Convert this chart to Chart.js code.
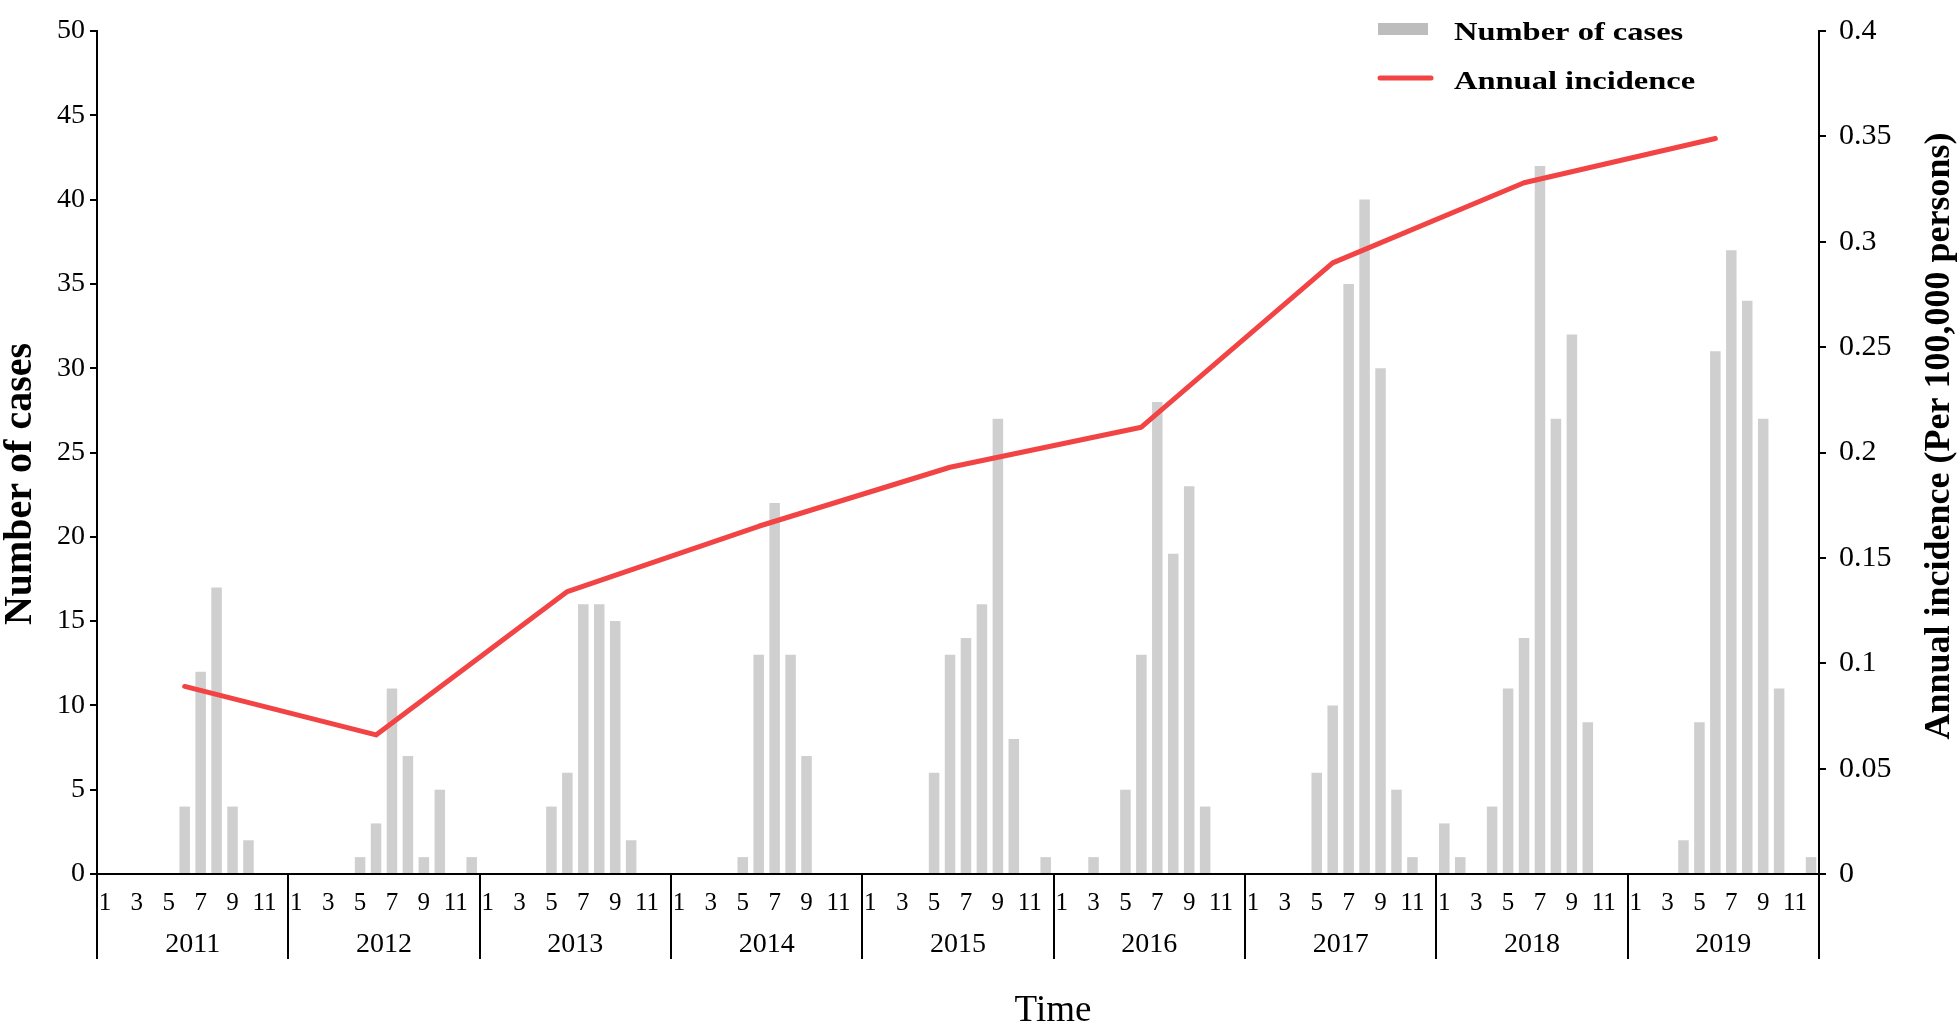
<!DOCTYPE html>
<html>
<head>
<meta charset="utf-8">
<script src="https://cdn.jsdelivr.net/npm/chart.js@4.4.1/dist/chart.umd.min.js"></script>
<style>
html,body{margin:0;padding:0;background:#ffffff;}
#wrap{width:1960px;height:1025px;}
</style>
</head>
<body>
<div id="wrap"><canvas id="c" width="1960" height="1025"></canvas></div>
<script>
// ---------- data ----------
const years = ['2011','2012','2013','2014','2015','2016','2017','2018','2019'];
const monthNumbers = ['1','2','3','4','5','6','7','8','9','10','11','12'];

const cases2011 = [0,0,0,0,0,4,12,17,4,2,0,0];
const cases2012 = [0,0,0,0,1,3,11,7,1,5,0,1];
const cases2013 = [0,0,0,0,4,6,16,16,15,2,0,0];
const cases2014 = [0,0,0,0,1,13,22,13,7,0,0,0];
const cases2015 = [0,0,0,0,6,13,14,16,27,8,0,1];
const cases2016 = [0,0,1,0,5,13,28,19,23,4,0,0];
const cases2017 = [0,0,0,0,6,10,35,40,30,5,1,0];
const cases2018 = [3,1,0,4,11,14,42,27,32,9,0,0];
const cases2019 = [0,0,0,2,9,31,37,34,27,11,0,1];

const annualIncidence = [0.089,0.066,0.134,0.165,0.193,0.212,0.290,0.328,0.349];
const incidenceMonth = '6';   // annual value plotted at mid-year

const caseTicks = [0,5,10,15,20,25,30,35,40,45,50];
const incidenceTicks = [0,0.05,0.1,0.15,0.2,0.25,0.3,0.35,0.4];

const seriesLabels = ['Number of cases','Annual incidence'];
const axisTitles = { left: 'Number of cases', right: 'Annual incidence (Per 100,000 persons)', bottom: 'Time' };

// ---------- build library tables ----------
const monthlyCases = [cases2011,cases2012,cases2013,cases2014,cases2015,cases2016,cases2017,cases2018,cases2019];
const categories = years.flatMap(y => monthNumbers.map(m => y + '-' + m));
const caseValues = monthlyCases.flat();
const incidenceValues = categories.map(c => {
  const [y, m] = c.split('-');
  return m === incidenceMonth ? annualIncidence[years.indexOf(y)] : null;
});

const SERIF = '"Liberation Serif", "Times New Roman", serif';
const BAR_COLOR = '#cfcfcf';
const LEGEND_BAR_COLOR = '#bdbdbd';
const LINE_COLOR = '#f24444';

// ---------- plugins ----------
const whiteBg = {
  id: 'whiteBg',
  beforeDraw(chart) {
    const ctx = chart.ctx;
    ctx.save();
    ctx.fillStyle = '#ffffff';
    ctx.fillRect(0, 0, chart.width, chart.height);
    ctx.restore();
  }
};

const axisDecor = {
  id: 'axisDecor',
  afterDraw(chart) {
    const ctx = chart.ctx;
    const x = chart.scales.x;
    const area = chart.chartArea;
    const step = x.getPixelForValue(1) - x.getPixelForValue(0);
    ctx.save();
    // year separators
    ctx.strokeStyle = '#000';
    ctx.lineWidth = 2;
    for (let k = 0; k <= years.length; k++) {
      const px = Math.round(x.getPixelForValue(k * 12) - step / 2);
      ctx.beginPath();
      ctx.moveTo(px, area.bottom);
      ctx.lineTo(px, area.bottom + 85);
      ctx.stroke();
    }
    ctx.fillStyle = '#000';
    ctx.textAlign = 'center';
    ctx.textBaseline = 'middle';
    // month labels (odd months), positioned by the category scale
    ctx.font = '25px ' + SERIF;
    categories.forEach((c, i) => {
      const m = c.split('-')[1];
      if (parseInt(m, 10) % 2 === 1) {
        ctx.fillText(m, x.getPixelForValue(i), area.bottom + 29);
      }
    });
    // year labels
    ctx.font = '28px ' + SERIF;
    years.forEach((yr, k) => {
      const cx = x.getPixelForValue(k * 12 + 5) + step / 2;
      ctx.fillText(yr, cx, area.bottom + 71);
    });
    // bottom title
    ctx.textBaseline = 'alphabetic';
    ctx.font = '37px ' + SERIF;
    ctx.fillText(axisTitles.bottom, 1053, 1021);
    // left title (reads bottom-to-top)
    ctx.textBaseline = 'middle';
    ctx.font = 'bold 40px ' + SERIF;
    ctx.save();
    ctx.translate(21, 484);
    ctx.rotate(-Math.PI / 2);
    ctx.fillText(axisTitles.left, 0, 0);
    ctx.restore();
    // right title (reads bottom-to-top)
    ctx.font = 'bold 36px ' + SERIF;
    ctx.save();
    ctx.translate(1940, 436);
    ctx.rotate(-Math.PI / 2);
    ctx.fillText(axisTitles.right, 0, 0);
    ctx.restore();
    ctx.restore();
  }
};

const insideLegend = {
  id: 'insideLegend',
  afterDraw(chart) {
    const ctx = chart.ctx;
    const ds = chart.data.datasets;
    const barDs = ds.find(d => d.type === 'bar');
    const lineDs = ds.find(d => d.type === 'line');
    ctx.save();
    ctx.fillStyle = LEGEND_BAR_COLOR;
    ctx.fillRect(1378, 23, 50, 12);
    ctx.strokeStyle = lineDs.borderColor;
    ctx.lineWidth = 5;
    ctx.lineCap = 'round';
    ctx.beginPath();
    ctx.moveTo(1380, 78);
    ctx.lineTo(1431, 78);
    ctx.stroke();
    ctx.fillStyle = '#000';
    ctx.textAlign = 'left';
    ctx.textBaseline = 'alphabetic';
    ctx.font = 'bold 26px ' + SERIF;
    [[barDs.label, 40], [lineDs.label, 89]].forEach(([t, by]) => {
      ctx.save();
      ctx.translate(1454, by);
      ctx.scale(1.25, 1);
      ctx.fillText(t, 0, 0);
      ctx.restore();
    });
    ctx.restore();
  }
};

// ---------- chart ----------
new Chart(document.getElementById('c'), {
  type: 'bar',
  data: {
    labels: categories,
    datasets: [
      {
        type: 'line',
        label: seriesLabels[1],
        data: incidenceValues,
        yAxisID: 'y1',
        borderColor: LINE_COLOR,
        backgroundColor: LINE_COLOR,
        borderWidth: 5,
        borderCapStyle: 'round',
        borderJoinStyle: 'round',
        pointRadius: 0,
        spanGaps: true,
        tension: 0,
        order: 0
      },
      {
        type: 'bar',
        label: seriesLabels[0],
        data: caseValues,
        yAxisID: 'y',
        backgroundColor: BAR_COLOR,
        borderWidth: 0,
        barPercentage: 0.66,
        categoryPercentage: 1,
        order: 1
      }
    ]
  },
  options: {
    responsive: false,
    animation: false,
    devicePixelRatio: 1,
    layout: { padding: { top: 15, left: 0, right: 0, bottom: 0 } },
    plugins: {
      legend: { display: false },
      tooltip: { enabled: false }
    },
    scales: {
      x: {
        type: 'category',
        offset: true,
        grid: { display: false, drawTicks: false },
        border: { display: true, color: '#000', width: 2 },
        ticks: { display: false },
        afterFit(scale) { scale.height = 151; }
      },
      y: {
        position: 'left',
        min: 0,
        max: 50,
        afterBuildTicks(scale) { scale.ticks = caseTicks.map(v => ({ value: v })); },
        grid: { drawOnChartArea: false, drawTicks: true, tickLength: 7, color: '#000', lineWidth: 2 },
        border: { display: true, color: '#000', width: 2 },
        ticks: {
          padding: 5,
          color: '#000',
          font: { family: SERIF, size: 28 }
        },
        afterFit(scale) { scale.width = 97; }
      },
      y1: {
        position: 'right',
        min: 0,
        max: 0.4,
        afterBuildTicks(scale) { scale.ticks = incidenceTicks.map(v => ({ value: v })); },
        grid: { drawOnChartArea: false, drawTicks: true, tickLength: 7, color: '#000', lineWidth: 2 },
        border: { display: true, color: '#000', width: 2 },
        ticks: {
          padding: 13,
          color: '#000',
          font: { family: SERIF, size: 30 },
          callback: v => String(Math.round(v * 100) / 100)
        },
        afterFit(scale) { scale.width = 141; }
      }
    }
  },
  plugins: [whiteBg, axisDecor, insideLegend]
});
</script>
</body>
</html>
